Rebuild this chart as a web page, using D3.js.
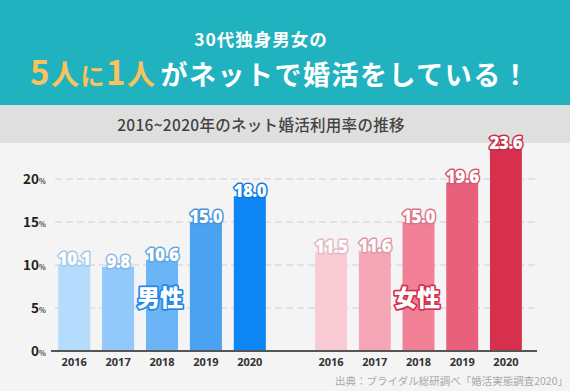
<!DOCTYPE html>
<html><head><meta charset="utf-8">
<script src="https://cdn.jsdelivr.net/npm/d3@7"></script>
<style>html,body{margin:0;padding:0;background:#f4f4f4;}svg{display:block;}</style>
</head><body>
<script>
const years = ["2016","2017","2018","2019","2020"];
const maleValues = [10.1, 9.8, 10.6, 15.0, 18.0];
const femaleValues = [11.5, 11.6, 15.0, 19.6, 23.6];
const maleColors = ["#b6dcfd","#92c8fa","#6bb4f5","#4aa2f1","#0f86f5"];
const femaleColors = ["#f8cbd5","#f4a6b6","#f17f96","#e8607b","#d7304f"];
const yTicks = [0, 5, 10, 15, 20];
const title1 = "30代独身男女の";
const title2a = ["5","人","に","1","人"];
const title2b = "がネットで婚活をしている！";
const subtitle = "2016~2020年のネット婚活利用率の推移";
const source = "出典：ブライダル総研調べ「婚活実態調査2020」";

const W = 570, H = 391;
const font = "'Noto Sans CJK JP','Noto Sans',sans-serif";
const svg = d3.select("body").append("svg").attr("width", W).attr("height", H)
  .style("font-family", font);

svg.append("rect").attr("width", W).attr("height", H).attr("fill", "#f4f4f4");
svg.append("rect").attr("width", W).attr("height", 105).attr("fill", "#20b2bf");
svg.append("rect").attr("y", 105).attr("width", W).attr("height", 38).attr("fill", "#dfdfdf");

svg.append("text").attr("x", 261).attr("y", 46).attr("text-anchor", "middle")
  .attr("fill", "#fff").attr("font-size", 17.5).attr("font-weight", 700)
  .attr("letter-spacing", 1).text(title1);

const t2 = svg.append("text").attr("x", 30).attr("y", 85).attr("font-weight", 700)
  .attr("letter-spacing", 1.5);
const sizes = [33, 28, 24, 33, 28];
title2a.forEach((s, i) => t2.append("tspan").attr("fill", "#f8c35b").attr("font-size", sizes[i]).text(s));
t2.append("tspan").attr("fill", "#fff").attr("font-size", 27).attr("dx", 4).text(title2b);

svg.append("text").attr("x", 261).attr("y", 131).attr("text-anchor", "middle")
  .attr("fill", "#444").attr("font-size", 15.5).attr("font-weight", 500)
  .attr("letter-spacing", 0.3).text(subtitle);

const y = d3.scaleLinear().domain([0, 20]).range([351, 179]);
const xm = d3.scaleBand().domain(years).range([52, 272]).paddingInner(0.27).paddingOuter(0.14);
const xf = d3.scaleBand().domain(years).range([309, 528]).paddingInner(0.27).paddingOuter(0.14);

// grid
svg.append("g").selectAll("line").data(yTicks.filter(d => d > 0)).join("line")
  .attr("x1", 55).attr("x2", 538).attr("y1", d => y(d)).attr("y2", d => y(d))
  .attr("stroke", "#dcdcdc").attr("stroke-width", 1.5).attr("stroke-dasharray", "7,4");

// y labels
svg.append("g").selectAll("text").data(yTicks).join("text")
  .attr("x", 39).attr("y", d => y(d) + 5).attr("text-anchor", "end")
  .attr("font-size", 13.5).attr("font-weight", 700).attr("fill", "#222").text(d => d);
svg.append("g").selectAll("text").data(yTicks).join("text")
  .attr("x", 39).attr("y", d => y(d) + 5)
  .attr("font-size", 7).attr("font-weight", 700).attr("fill", "#444").text("%");

function drawGroup(x, values, colors, label, labelColor, lx) {
  const g = svg.append("g");
  g.selectAll("rect").data(values).join("rect")
    .attr("x", (d, i) => x(years[i])).attr("width", x.bandwidth())
    .attr("y", d => y(d)).attr("height", d => y(0) - y(d))
    .attr("fill", (d, i) => colors[i]);
  g.selectAll("text.v").data(values).join("text").attr("class", "v")
    .attr("x", (d, i) => x(years[i]) + x.bandwidth() / 2).attr("y", d => y(d) + 1)
    .attr("text-anchor", "middle").attr("font-size", 17).attr("font-weight", 800)
    .attr("font-family", "'Open Sans','Noto Sans',sans-serif").attr("letter-spacing", -0.5)
    .attr("fill", "#fff").attr("stroke", (d, i) => d3.color(colors[i]).darker(0.25))
    .attr("stroke-width", 3).attr("stroke-linejoin", "round").attr("paint-order", "stroke")
    .text(d => d.toFixed(1));
  const xa = d3.axisBottom(x).tickSize(0).tickPadding(7);
  const ag = g.append("g").attr("transform", "translate(0,351)").call(xa);
  ag.select(".domain").remove();
  ag.selectAll("text").attr("font-size", 11).attr("font-weight", 700).attr("fill", "#333")
    .attr("font-family", "'Open Sans','Noto Sans',sans-serif");
  g.append("text").attr("x", lx).attr("y", 306).attr("text-anchor", "middle")
    .attr("font-size", 23).attr("font-weight", 900).attr("fill", "#fff")
    .attr("stroke", labelColor).attr("stroke-width", 3.5).attr("stroke-linejoin", "round")
    .attr("paint-order", "stroke").text(label);
}
drawGroup(xm, maleValues, maleColors, "男性", "#1f86ee", 160);
drawGroup(xf, femaleValues, femaleColors, "女性", "#d7304f", 417);

svg.append("line").attr("x1", 51).attr("x2", 537).attr("y1", 351).attr("y2", 351)
  .attr("stroke", "#555").attr("stroke-width", 2);

svg.append("text").attr("x", 568).attr("y", 385).attr("text-anchor", "end")
  .attr("font-size", 10.5).attr("fill", "#aaa").text(source);
</script>
</body></html>
